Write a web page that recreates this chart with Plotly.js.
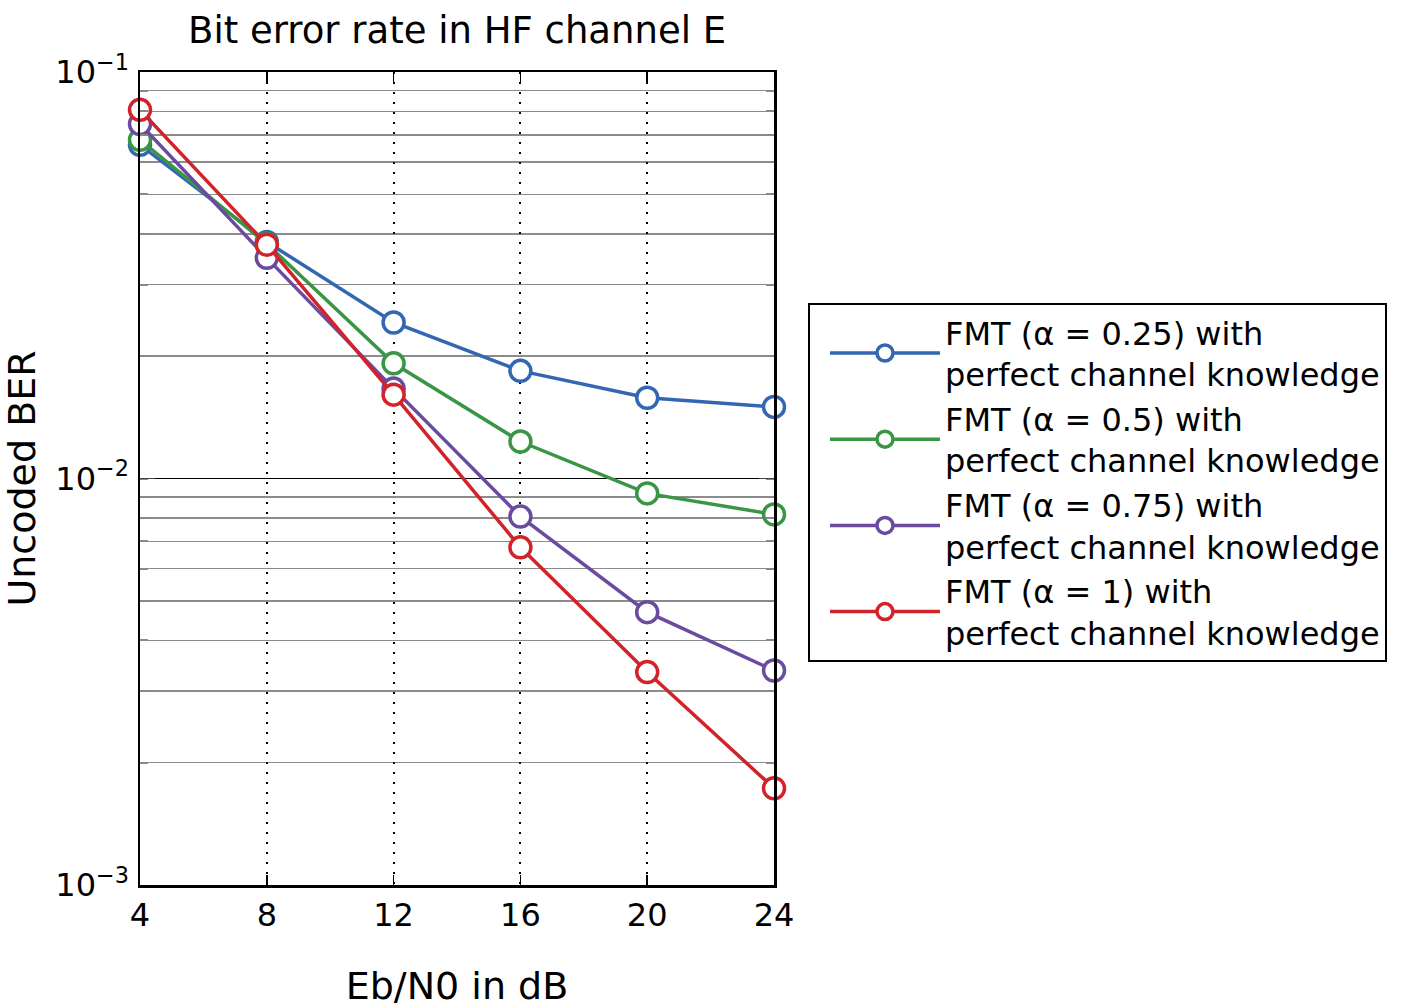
<!DOCTYPE html>
<html>
<head>
<meta charset="utf-8">
<script src="https://cdn.plot.ly/plotly-3.0.1.min.js"></script>
<style>body{margin:0;padding:0;background:#fff;} #chart{width:1412px;height:1008px;}</style>
</head>
<body>
<div id="chart"></div>
<script>
// Data
const ebn0 = [4, 8, 12, 16, 20, 24];
const berA025 = [0.0662, 0.0382, 0.0242, 0.0184, 0.0158, 0.0150];
const berA050 = [0.0681, 0.0378, 0.0192, 0.01233, 0.00919, 0.00816];
const berA075 = [0.0745, 0.0349, 0.01664, 0.00806, 0.00469, 0.00337];
const berA100 = [0.0807, 0.0376, 0.01608, 0.00677, 0.00334, 0.00173];
const seriesNames = [
  "FMT (α = 0.25) with<br>perfect channel knowledge",
  "FMT (α = 0.5) with<br>perfect channel knowledge",
  "FMT (α = 0.75) with<br>perfect channel knowledge",
  "FMT (α = 1) with<br>perfect channel knowledge"
];
const seriesColors = ["#3366b3", "#3a9645", "#6a4b9f", "#d2232a"];
const xTickVals = [4, 8, 12, 16, 20, 24];
const yTickVals = [0.001, 0.01, 0.1];
const yTickText = ["10<sup>−3</sup>", "10<sup>−2</sup>", "10<sup>−1</sup>"];

const FONT = "DejaVu Sans, sans-serif";
const allY = [berA025, berA050, berA075, berA100];

const traces = allY.map((ys, i) => ({
  x: ebn0,
  y: ys,
  name: seriesNames[i],
  legendgroup: "g" + i,
  type: "scatter",
  mode: "lines+markers",
  cliponaxis: false,
  line: {color: seriesColors[i], width: 3.5},
  marker: {symbol: "circle", size: 21, color: "white", line: {color: seriesColors[i], width: 3.5}}
}));

const layout = {
  width: 1412,
  height: 1008,
  paper_bgcolor: "white",
  plot_bgcolor: "white",
  margin: {l: 140, r: 638, t: 72, b: 123, pad: 0},
  font: {family: FONT, color: "#000", size: 28},
  title: {
    text: "Bit error rate in HF channel E",
    font: {family: FONT, size: 37, color: "#000"},
    x: 0.3237, xanchor: "center",
    y: 0.97, yanchor: "middle", yref: "container"
  },
  showlegend: true,
  legend: {
    x: 1.0536, xanchor: "left",
    y: 0.716, yanchor: "top",
    bordercolor: "#000", borderwidth: 2,
    bgcolor: "white",
    font: {family: FONT, size: 32, color: "#000"},
    itemwidth: 110,
    indentation: 15,
    tracegroupgap: 0,
    entrywidthmode: "pixels",
    entrywidth: 470
  },
  xaxis: {
    range: [4, 24],
    tickvals: xTickVals,
    ticktext: xTickVals.map(String),
    tickfont: {family: FONT, size: 32},
    ticks: "inside", ticklen: 10, tickwidth: 1.5, tickcolor: "#000",
    showline: true, linecolor: "#000", linewidth: 2.5, mirror: "ticks",
    showgrid: true, gridcolor: "#000", gridwidth: 2, griddash: "2px,8px",
    zeroline: false,
    title: {text: "Eb/N0 in dB", font: {family: FONT, size: 38}, standoff: 40}
  },
  yaxis: {
    type: "log",
    range: [-3, -1],
    tickvals: yTickVals,
    ticktext: yTickText,
    tickfont: {family: FONT, size: 32},
    ticks: "inside", ticklen: 15, tickwidth: 1.5, tickcolor: "#444",
    showline: true, linecolor: "#000", linewidth: 2.5, mirror: "ticks",
    showgrid: true, gridcolor: "#000", gridwidth: 1.2,
    zeroline: false,
    ticklabelstandoff: 2,
    minor: {dtick: "D1", showgrid: true, gridcolor: "#8c8c8c", gridwidth: 1.5, ticks: "inside", ticklen: 8, tickcolor: "#888", tickwidth: 2},
    title: {text: "Uncoded BER", font: {family: FONT, size: 38}, standoff: 12}
  }
};

Plotly.newPlot("chart", traces, layout, {displayModeBar: false, staticPlot: true});
</script>
</body>
</html>
